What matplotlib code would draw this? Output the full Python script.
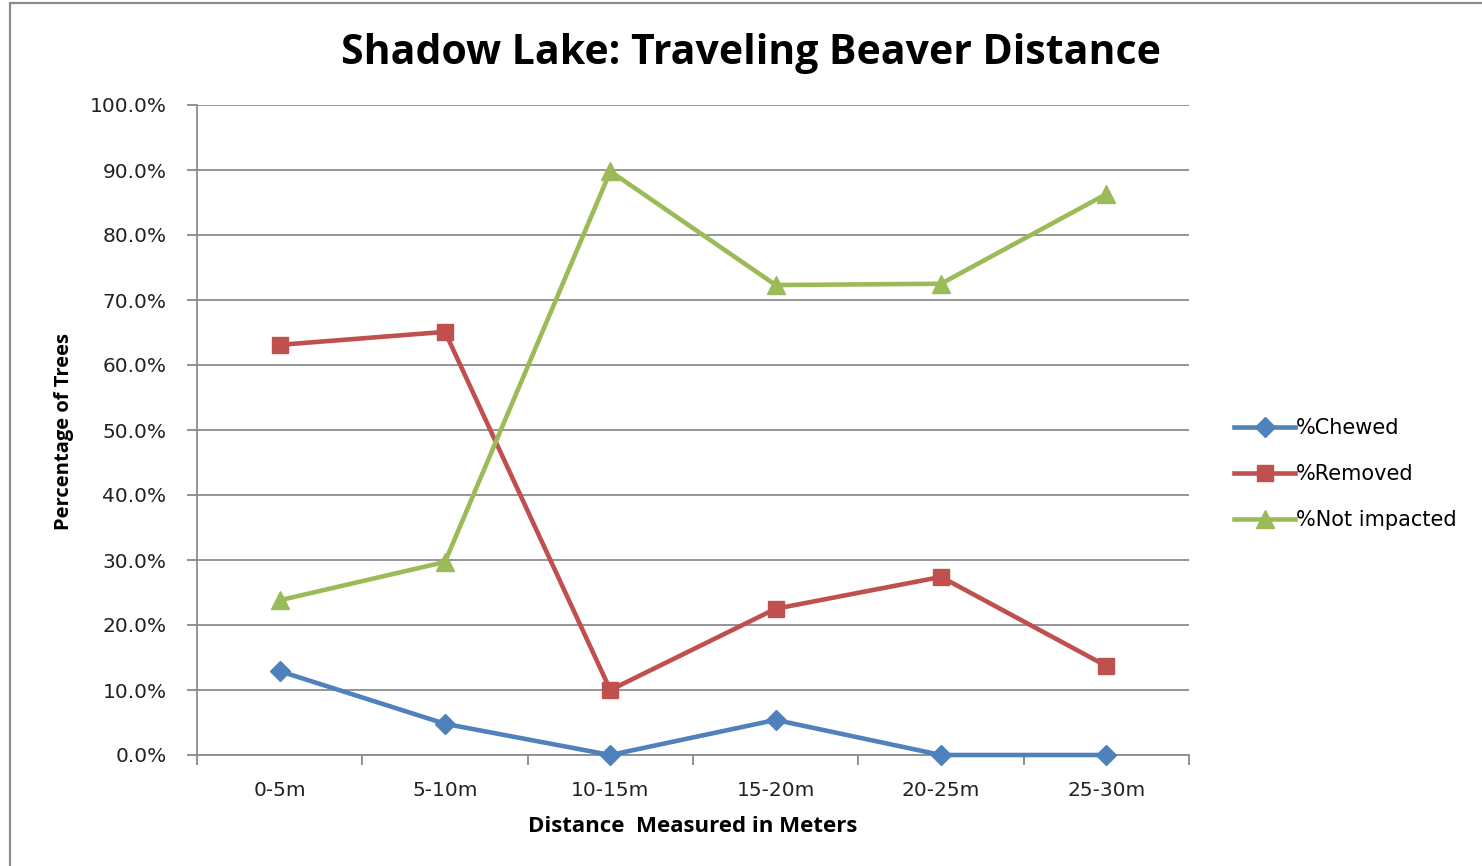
import matplotlib
matplotlib.use("Agg")
import matplotlib.pyplot as plt
from matplotlib.patches import Rectangle
import numpy as np

categories = ["0-5m", "5-10m", "10-15m", "15-20m", "20-25m", "25-30m"]
chewed = [12.9, 4.8, 0.0, 5.4, 0.0, 0.0]
removed = [63.1, 65.1, 10.0, 22.5, 27.4, 13.7]
not_impacted = [23.8, 29.7, 89.8, 72.3, 72.5, 86.3]
series_names = ["%Chewed", "%Removed", "%Not impacted"]
y_ticks = [0, 10, 20, 30, 40, 50, 60, 70, 80, 90, 100]

W, H = 1482, 866
fig = plt.figure(figsize=(W / 100, H / 100), dpi=100)
fig.patch.set_facecolor("white")

# chart border
fig.add_artist(Rectangle((10 / W, -0.05), 1.2, 1 - 3 / H + 0.05, transform=fig.transFigure,
                         fill=False, edgecolor="#8c8c8c", linewidth=1.6))

ax = fig.add_axes([197 / W, 1 - 755 / H, (1189 - 197) / W, (755 - 105) / H])
x = np.arange(len(categories))
colors = ["#4F81BD", "#C0504D", "#9BBB59"]
markers = ["D", "s", "^"]
msizes = [10.5, 11, 13]
for vals, c, m, ms, name in zip([chewed, removed, not_impacted], colors, markers, msizes, series_names):
    ax.plot(x, vals, color=c, marker=m, markersize=ms, linewidth=3.3, label=name,
            markeredgecolor=c, clip_on=False, zorder=3)

ax.set_xlim(-0.5, len(categories) - 0.5)
ax.set_ylim(0, 100)
ax.set_yticks(y_ticks)
ax.set_yticklabels([f"{v:.1f}%" for v in y_ticks], fontsize=14.5, color="#222222", family="DejaVu Sans")
ax.set_xticks(x)
ax.set_xticklabels(categories, fontsize=14.5, color="#222222", family="DejaVu Sans")
ax.set_xticks(np.arange(-0.5, len(categories)), minor=True)
ax.tick_params(axis="x", which="major", length=0, pad=19)
ax.tick_params(axis="x", which="minor", length=7, width=1.3, color="#888888", direction="out")
ax.tick_params(axis="y", length=7, width=1.3, color="#888888", pad=15)

ax.grid(axis="y", color="#8c8c8c", linewidth=1.3)
ax.set_axisbelow(True)
for s in ["top", "right"]:
    ax.spines[s].set_visible(False)
for s in ["left", "bottom"]:
    ax.spines[s].set_color("#8c8c8c")
    ax.spines[s].set_linewidth(1.3)

fig.text((336 + 1166) / 2 / W, 1 - 53 / H, "Shadow Lake: Traveling Beaver Distance",
         ha="center", va="center", fontsize=29.5, fontweight="bold", family="Open Sans")
fig.text(693 / W, 1 - 826 / H, "Distance  Measured in Meters", ha="center", va="center",
         fontsize=16, fontweight="bold", family="Open Sans")
fig.text(64 / W, 1 - 432 / H, "Percentage of Trees", ha="center", va="center", rotation=90,
         fontsize=14.5, fontweight="bold", family="Open Sans")

leg = ax.legend(loc="center left", bbox_to_anchor=(1226 / W, 1 - 474 / H),
                bbox_transform=fig.transFigure, frameon=False,
                prop={"family": "DejaVu Sans", "size": 15},
                handlelength=2.9, handletextpad=0.05, labelspacing=1.25, borderaxespad=0)

fig.savefig("out.png", dpi=100)
